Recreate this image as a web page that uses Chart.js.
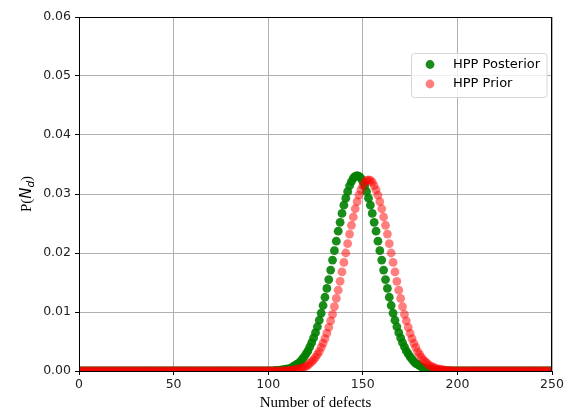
<!DOCTYPE html>
<html>
<head>
<meta charset="utf-8">
<script src="https://cdn.jsdelivr.net/npm/chart.js@4/dist/chart.umd.min.js"></script>
<style>
  body { margin: 0; background: #fff; }
  canvas { display: block; }
</style>
</head>
<body>
<canvas id="chart" width="567" height="410"></canvas>
<script>
// number of defects shown on the x axis, 0..250
const defects = Array.from({ length: 251 }, (_, i) => i)
// both curves sit at zero outside this window, values read from x = 100 to 200
const xStart = 100

const posterior = [
  0, 0, 0, 0, 0.0001, 0.0001, 0.0001, 0.0002, 0.0002, 0.0003,
  0.0003, 0.0004, 0.0005, 0.0007, 0.0009, 0.0011, 0.0013, 0.0016, 0.0020, 0.0024,
  0.0029, 0.0034, 0.0041, 0.0048, 0.0056, 0.0065, 0.0075, 0.0086, 0.0098, 0.0111,
  0.0125, 0.0140, 0.0155, 0.0171, 0.0188, 0.0204, 0.0220, 0.0237, 0.0252, 0.0267,
  0.0281, 0.0293, 0.0304, 0.0314, 0.0321, 0.0327, 0.0330, 0.0331, 0.0330, 0.0327,
  0.0321, 0.0314, 0.0304, 0.0293, 0.0281, 0.0267, 0.0252, 0.0237, 0.0220, 0.0204,
  0.0188, 0.0171, 0.0155, 0.0140, 0.0125, 0.0111, 0.0098, 0.0086, 0.0075, 0.0065,
  0.0056, 0.0048, 0.0041, 0.0034, 0.0029, 0.0024, 0.0020, 0.0016, 0.0013, 0.0011,
  0.0009, 0.0007, 0.0005, 0.0004, 0.0003, 0.0003, 0.0002, 0.0002, 0.0001, 0.0001,
  0.0001, 0, 0, 0, 0, 0, 0, 0, 0, 0,
  0
]

const prior = [
  0, 0, 0, 0, 0, 0, 0, 0, 0, 0,
  0.0001, 0.0001, 0.0001, 0.0002, 0.0002, 0.0003, 0.0003, 0.0004, 0.0005, 0.0007,
  0.0008, 0.0010, 0.0013, 0.0016, 0.0019, 0.0023, 0.0028, 0.0033, 0.0040, 0.0047,
  0.0055, 0.0064, 0.0074, 0.0085, 0.0096, 0.0109, 0.0123, 0.0137, 0.0152, 0.0168,
  0.0184, 0.0200, 0.0216, 0.0232, 0.0247, 0.0261, 0.0275, 0.0287, 0.0298, 0.0307,
  0.0314, 0.0320, 0.0323, 0.0324, 0.0323, 0.0320, 0.0314, 0.0307, 0.0298, 0.0287,
  0.0275, 0.0261, 0.0247, 0.0232, 0.0216, 0.0200, 0.0184, 0.0168, 0.0152, 0.0137,
  0.0123, 0.0109, 0.0096, 0.0085, 0.0074, 0.0064, 0.0055, 0.0047, 0.0040, 0.0033,
  0.0028, 0.0023, 0.0019, 0.0016, 0.0013, 0.0010, 0.0008, 0.0007, 0.0005, 0.0004,
  0.0003, 0.0003, 0.0002, 0.0002, 0.0001, 0.0001, 0.0001, 0, 0, 0,
  0
]

const xTicks = [0, 50, 100, 150, 200, 250]
const yTicks = [0, 0.01, 0.02, 0.03, 0.04, 0.05, 0.06]

const seriesNames = ['HPP Posterior', 'HPP Prior']
const seriesColors = ['rgba(0, 128, 0, 0.9)', 'rgba(255, 0, 0, 0.5)']

function toPoints(vals) {
  return defects.map((n) => {
    const i = n - xStart
    return { x: n, y: i >= 0 && i < vals.length ? vals[i] : 0 }
  })
}

const tickFont = { family: 'DejaVu Sans', size: 12.5 }

// frame, axis titles and the legend box drawn the matplotlib way
const decorations = {
  id: 'decorations',
  afterDraw(chart) {
    const { ctx, chartArea: a } = chart
    ctx.save()
    ctx.strokeStyle = '#000'
    ctx.lineWidth = 1
    ctx.strokeRect(a.left + 0.5, a.top + 0.5, a.right - a.left - 1, a.bottom - a.top)

    ctx.fillStyle = '#000'
    ctx.font = '15px "Liberation Serif"'
    ctx.textAlign = 'center'
    ctx.textBaseline = 'middle'
    ctx.fillText('Number of defects', (a.left + a.right) / 2, 403)

    // y title: P(N_d)
    ctx.translate(27, (a.top + a.bottom) / 2)
    ctx.rotate(-Math.PI / 2)
    ctx.textAlign = 'left'
    const parts = [
      { t: 'P(', f: '15px "Liberation Serif"', dy: 0 },
      { t: 'N', f: 'italic 15px "DejaVu Sans"', dy: 0 },
      { t: 'd', f: 'italic 10.5px "DejaVu Sans"', dy: 4 },
      { t: ')', f: '15px "Liberation Serif"', dy: 0 }
    ]
    let w = 0
    parts.forEach((p) => { ctx.font = p.f; w += ctx.measureText(p.t).width })
    let x = -w / 2
    parts.forEach((p) => {
      ctx.font = p.f
      ctx.fillText(p.t, x, p.dy)
      x += ctx.measureText(p.t).width
    })
    ctx.restore()

    // legend
    ctx.save()
    const bx = 411.5, by = 53.5, bw = 135.5, bh = 44
    ctx.fillStyle = 'rgba(255, 255, 255, 0.8)'
    ctx.strokeStyle = '#d6d6d6'
    ctx.lineWidth = 1
    ctx.beginPath()
    ctx.roundRect(bx, by, bw, bh, 3)
    ctx.fill()
    ctx.stroke()
    ctx.font = '13px "DejaVu Sans"'
    ctx.textBaseline = 'middle'
    seriesNames.forEach((name, i) => {
      const cy = 64.5 + i * 19.5
      ctx.fillStyle = seriesColors[i]
      ctx.beginPath()
      ctx.arc(430, cy, 4.4, 0, Math.PI * 2)
      ctx.fill()
      ctx.fillStyle = '#000'
      ctx.fillText(name, 453, cy)
    })
    ctx.restore()
  }
}

new Chart(document.getElementById('chart'), {
  type: 'scatter',
  data: {
    datasets: [
      {
        label: seriesNames[0],
        data: toPoints(posterior),
        backgroundColor: seriesColors[0],
        borderWidth: 0,
        pointRadius: 4.4,
        order: 2,
        clip: 0
      },
      {
        label: seriesNames[1],
        data: toPoints(prior),
        backgroundColor: seriesColors[1],
        borderWidth: 0,
        pointRadius: 4.4,
        order: 1,
        clip: 0
      }
    ]
  },
  options: {
    responsive: false,
    animation: false,
    layout: { padding: { top: 17, right: 15, left: 0, bottom: 0 } },
    plugins: {
      legend: { display: false },
      tooltip: { enabled: false }
    },
    scales: {
      x: {
        min: 0,
        max: 250,
        afterBuildTicks: (s) => { s.ticks = xTicks.map((v) => ({ value: v })) },
        afterFit: (s) => { s.height = 39 },
        ticks: { font: tickFont, color: '#222', padding: 2, maxRotation: 0 },
        grid: { color: '#b0b0b0', tickColor: '#000', tickLength: 4 },
        border: { color: '#000' }
      },
      y: {
        min: 0,
        max: 0.06,
        afterBuildTicks: (s) => { s.ticks = yTicks.map((v) => ({ value: v })) },
        afterFit: (s) => { s.width = 79 },
        ticks: {
          font: tickFont,
          color: '#222',
          padding: 4,
          callback: (v) => v.toFixed(2)
        },
        grid: { color: '#b0b0b0', tickColor: '#000', tickLength: 4 },
        border: { color: '#000' }
      }
    }
  },
  plugins: [decorations]
})
</script>
</body>
</html>
